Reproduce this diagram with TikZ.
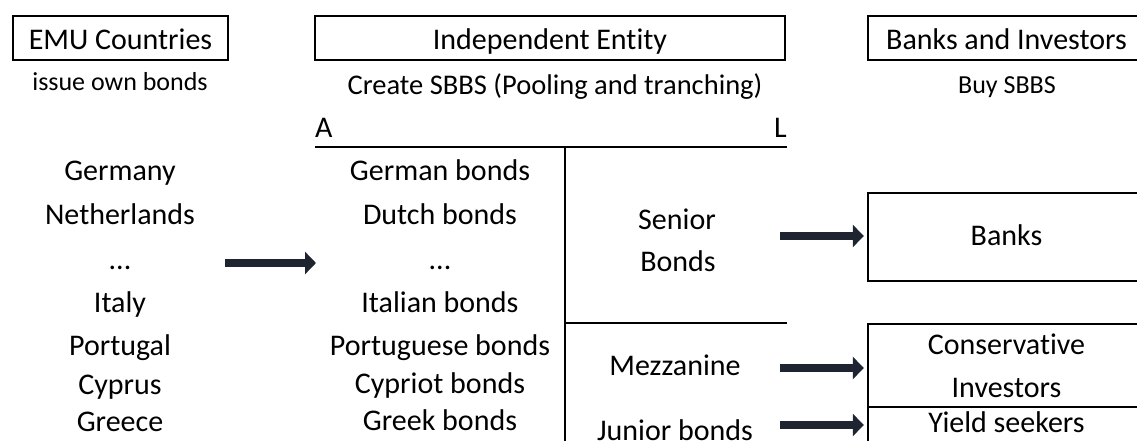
\documentclass[tikz,border=0pt]{standalone}
\usepackage{fontspec}
\setmainfont{Carlito}[Ligatures=NoCommon]
\usetikzlibrary{arrows.meta}
\definecolor{arrowc}{RGB}{30,37,48}
\begin{document}
\begin{tikzpicture}[x=1pt,y=-1pt,
  big/.style={font=\fontsize{30}{43}\selectfont, inner sep=0pt, anchor=base},
  small/.style={font=\fontsize{26}{30}\selectfont, inner sep=0pt, anchor=base},
  hbox/.style={draw, line width=2.4pt, inner sep=0pt},
  fat/.style={arrowc, line width=7.5pt, -{Triangle[length=11pt,width=22pt]}},
  rulel/.style={line width=2.2pt}]
\useasboundingbox (0,0) rectangle (1137,441);
\clip (0,0) rectangle (1137,441);

% header boxes
\node[hbox, minimum width=215pt, minimum height=44pt] (emu) at (120.5,38) {};
\node[hbox, minimum width=470pt, minimum height=44pt] (ind) at (550,38) {};
\node[hbox, minimum width=277pt, minimum height=44pt] (bi) at (1006.5,38) {};
\node[big] (emut) at (120.5,50) {EMU Countries};
\node[big] (indt) at (550,50) {Independent Entity};
\node[big] (bit) at (1006.5,50) {Banks and Investors};

% sub labels
\node[small] (s1) at (120,91) {issue own bonds};
\node[small, font=\fontsize{28.5}{32}\selectfont] (s2) at (555,95) {Create SBBS (Pooling and tranching)};
\node[small] (s3) at (1007,94) {Buy SBBS};

% balance sheet
\node[big, anchor=base west] (A) at (315,137) {A};
\node[big, anchor=base east] (L) at (787,137) {L};
\draw[rulel] (315,147) -- (787,147);
\draw[rulel] (565,147) -- (565,450);
\draw[rulel] (565,323) -- (787,323);

% countries
\node[big] (c1) at (120,180) {Germany};
\node[big] (c2) at (120,224) {Netherlands};
\node[big] (c3) at (120,269) {...};
\node[big] (c4) at (120,312) {Italy};
\node[big] (c5) at (120,355) {Portugal};
\node[big] (c6) at (120,394) {Cyprus};
\node[big] (c7) at (120,431) {Greece};

% bonds
\node[big] (b1) at (440,180) {German bonds};
\node[big] (b2) at (440,224) {Dutch bonds};
\node[big] (b3) at (440,269) {...};
\node[big] (b4) at (440,312) {Italian bonds};
\node[big] (b5) at (440,355) {Portuguese bonds};
\node[big] (b6) at (440,393) {Cypriot bonds};
\node[big] (b7) at (440,430) {Greek bonds};

% tranches
\node[big] (t1) at (677,229) {Senior};
\node[big] (t2) at (678,271) {Bonds};
\node[big] (t3) at (675,375) {Mezzanine};
\node[big] (t4) at (675,440) {Junior bonds};

% investor boxes
\node[hbox, minimum width=277pt, minimum height=88pt] (banks) at (1006.5,237) {};
\node[big] (bankst) at (1006.5,245) {Banks};
\node[hbox, minimum width=277pt, minimum height=83pt] (cons) at (1006.5,365.5) {};
\node[big] (cons1) at (1006.5,354) {Conservative};
\node[big] (cons2) at (1006.5,397) {Investors};
\node[hbox, minimum width=277pt, minimum height=63pt] (yield) at (1006.5,438.5) {};
\node[big] (yieldt) at (1006.5,432) {Yield seekers};

% arrows
\coordinate (la) at (225,263);
\coordinate (lb) at (316,263);
\draw[fat] (la) -- (lb);
\coordinate (sa) at (780,236);
\coordinate (ma) at (780,368);
\coordinate (ja) at (780,425);
\draw[fat, shorten >=3pt] (sa) -- (sa -| banks.west);
\draw[fat, shorten >=3pt] (ma) -- (ma -| cons.west);
\draw[fat, shorten >=3pt] (ja) -- (ja -| yield.west);
\end{tikzpicture}
\end{document}
